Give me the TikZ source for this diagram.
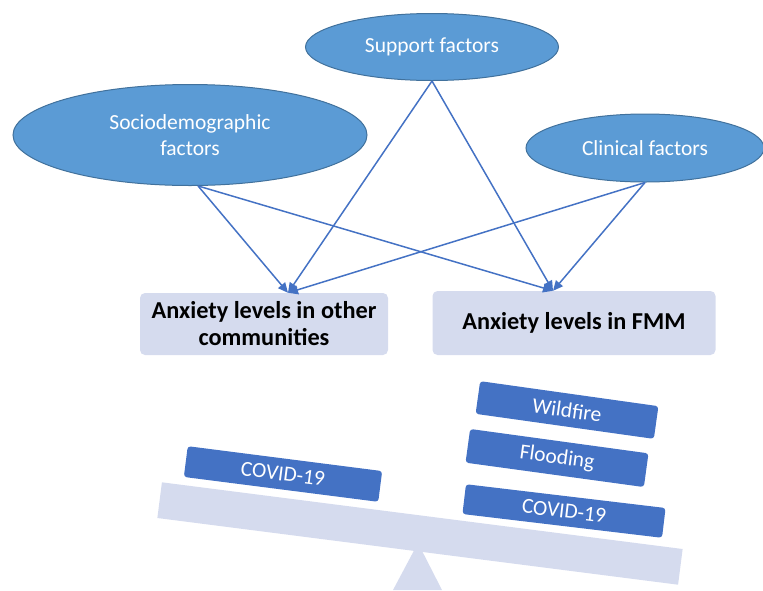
\documentclass[tikz,border=0pt]{standalone}
\usepackage{fontspec}
\setmainfont{Carlito}
\usetikzlibrary{arrows.meta,shapes.geometric}
\definecolor{ellfill}{HTML}{5B9BD5}
\definecolor{elldraw}{HTML}{41719C}
\definecolor{arrowc}{HTML}{4472C4}
\definecolor{boxfill}{HTML}{D5DBEE}
\definecolor{blockfill}{HTML}{4472C4}
\begin{document}
\begin{tikzpicture}[x=1pt,y=-1pt,
 factor/.style={ellipse, fill=ellfill, draw=elldraw, line width=1pt, text=white, font=\fontsize{21.5}{26}\selectfont, align=center, inner sep=0pt},
 link/.style={draw=arrowc, line width=1.5pt, -{Triangle[length=10pt,width=9pt]}},
 outcome/.style={rectangle, rounded corners=5pt, fill=boxfill, font=\bfseries\fontsize{24.3}{27}\selectfont, align=center, inner sep=0pt},
 weight/.style={rectangle, rounded corners=3pt, fill=blockfill, text=white, font=\fontsize{21.5}{26}\selectfont, inner sep=0pt},
 beamstyle/.style={rectangle, fill=boxfill, inner sep=0pt},
]
\useasboundingbox (0,0) rectangle (763,590);

% seesaw
\fill[boxfill] (418,543) -- (393,590) -- (442,590) -- cycle;
\node[beamstyle, minimum width=525pt, minimum height=36pt, rotate=-7.3] (beam) at (420,533.5) {};

% weights
\node[weight, minimum width=196pt, minimum height=31pt, rotate=-7.3] (covl) at (283,474) {COVID-19};
\node[weight, minimum width=180pt, minimum height=33pt, rotate=-8] (wild) at (567,410) {Wildfire};
\node[weight, minimum width=180pt, minimum height=34pt, rotate=-7.8] (flood) at (557,458) {Flooding};
\node[weight, minimum width=201pt, minimum height=30pt, rotate=-6.8] (covr) at (564,511) {COVID-19};

% factors
\node[factor, minimum width=253pt, minimum height=67pt] (sup) at (432,47) {Support factors};
\node[factor, minimum width=354pt, minimum height=101pt] (soc) at (190,135) {Sociodemographic\\factors};
\node[factor, minimum width=238pt, minimum height=68pt] (cli) at (645,148) {Clinical factors};

% outcomes
\node[outcome, minimum width=248pt, minimum height=62pt] (lbox) at (264,324) {Anxiety levels in other\\communities};
\node[outcome, minimum width=283pt, minimum height=64pt] (rbox) at (574,323) {Anxiety levels in FMM};

% links
\draw[link] (soc.-81) -- ([xshift=24pt]lbox.north);
\draw[link] (soc.-81) -- ([xshift=-21pt]rbox.north);
\draw[link] (sup.south) -- ([xshift=24pt]lbox.north);
\draw[link] (sup.south) -- ([xshift=-21pt]rbox.north);
\draw[link] (cli.south) -- ([xshift=24pt]lbox.north);
\draw[link] (cli.south) -- ([xshift=-21pt]rbox.north);
\end{tikzpicture}
\end{document}
